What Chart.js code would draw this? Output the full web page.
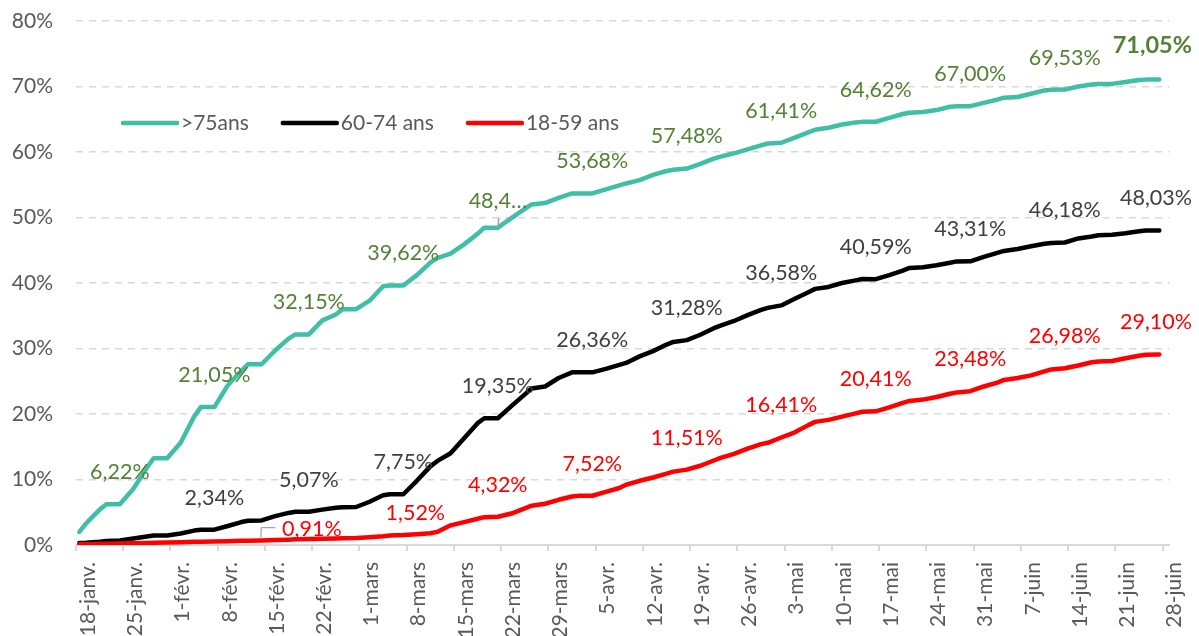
<!DOCTYPE html>
<html lang="fr">
<head>
<meta charset="UTF-8">
<title>Part vaccinée par tranche d'âge</title>
<script src="https://cdn.jsdelivr.net/npm/chart.js"></script>
<style>
  html, body { margin: 0; padding: 0; background: #fff; }
  #wrap { width: 1199px; height: 636px; }
</style>
</head>
<body>
<div id="wrap"><canvas id="chart"></canvas></div>
<script>
// jours depuis le 18 janvier (0 = 18-janv.)
var days = [0, 1, 3, 4, 6, 8, 10, 11, 13, 15, 17, 18, 20, 22, 24, 25, 27, 29, 31, 32,
  34, 36, 38, 39, 41, 43, 45, 46, 48, 50, 52, 53, 55, 57, 59, 60, 62, 64, 66, 67,
  69, 71, 73, 74, 76, 78, 80, 81, 83, 85, 87, 88, 90, 92, 94, 95, 97, 99, 101, 102,
  104, 106, 108, 109, 111, 113, 115, 116, 118, 120, 122, 123, 125, 127, 129, 130,
  132, 134, 136, 137, 139, 141, 143, 144, 146, 148, 150, 151, 153, 155, 157, 158, 160];

var over75 = [2.0, 3.3, 5.4, 6.22, 6.22, 8.6, 11.8, 13.25, 13.25, 15.6, 19.6, 21.05,
  21.05, 24.4, 26.6, 27.6, 27.6, 29.7, 31.5, 32.15, 32.15, 34.3, 35.2, 36.0,
  36.0, 37.3, 39.5, 39.62, 39.62, 41.2, 43.1, 43.8, 44.5, 45.9, 47.5, 48.45,
  48.45, 49.9, 51.3, 52.0, 52.2, 53.0, 53.68, 53.68, 53.68, 54.3, 54.9, 55.2,
  55.7, 56.5, 57.1, 57.3, 57.48, 58.2, 59.0, 59.3, 59.8, 60.4, 61.0, 61.3,
  61.41, 62.2, 63.0, 63.4, 63.7, 64.2, 64.5, 64.6, 64.62, 65.2, 65.8, 66.0,
  66.1, 66.4, 66.9, 67.0, 67.00, 67.5, 68.0, 68.3, 68.4, 68.9, 69.4, 69.5,
  69.53, 70.0, 70.3, 70.4, 70.4, 70.7, 71.0, 71.05, 71.05];

var age6074 = [0.3, 0.35, 0.5, 0.6, 0.7, 1.0, 1.3, 1.45, 1.45, 1.75, 2.2, 2.34,
  2.34, 2.9, 3.5, 3.7, 3.75, 4.4, 4.9, 5.07, 5.07, 5.4, 5.7, 5.75,
  5.8, 6.6, 7.6, 7.75, 7.75, 9.8, 12.0, 12.8, 14.0, 16.3, 18.6, 19.35,
  19.35, 21.2, 23.0, 23.9, 24.2, 25.5, 26.36, 26.36, 26.36, 26.9, 27.5, 27.8,
  28.8, 29.6, 30.6, 31.0, 31.28, 32.1, 33.1, 33.5, 34.2, 35.1, 35.9, 36.2,
  36.58, 37.6, 38.6, 39.1, 39.4, 40.0, 40.4, 40.6, 40.59, 41.2, 41.9, 42.3,
  42.4, 42.7, 43.1, 43.3, 43.31, 44.0, 44.6, 44.9, 45.2, 45.6, 46.0, 46.1,
  46.18, 46.8, 47.1, 47.3, 47.35, 47.6, 47.9, 48.0, 48.03];

var age1859 = [0.1, 0.12, 0.18, 0.2, 0.22, 0.27, 0.32, 0.35, 0.37, 0.42, 0.48, 0.5,
  0.52, 0.57, 0.63, 0.65, 0.68, 0.75, 0.82, 0.86, 0.91, 0.95, 1.0, 1.03,
  1.08, 1.2, 1.35, 1.45, 1.52, 1.65, 1.8, 2.0, 3.0, 3.5, 4.0, 4.25,
  4.32, 4.8, 5.6, 6.0, 6.3, 6.9, 7.4, 7.52, 7.52, 8.1, 8.7, 9.2,
  9.8, 10.3, 10.9, 11.2, 11.51, 12.1, 12.9, 13.3, 13.9, 14.7, 15.4, 15.6,
  16.41, 17.2, 18.3, 18.8, 19.1, 19.6, 20.1, 20.35, 20.41, 21.0, 21.7, 22.0,
  22.2, 22.6, 23.1, 23.3, 23.48, 24.2, 24.8, 25.2, 25.5, 25.9, 26.5, 26.8,
  26.98, 27.4, 27.9, 28.0, 28.1, 28.5, 28.9, 29.05, 29.10];

var tickLabels = ['18-janv.', '25-janv.', '1-févr.', '8-févr.', '15-févr.', '22-févr.',
  '1-mars', '8-mars', '15-mars', '22-mars', '29-mars', '5-avr.', '12-avr.', '19-avr.',
  '26-avr.', '3-mai', '10-mai', '17-mai', '24-mai', '31-mai', '7-juin', '14-juin',
  '21-juin', '28-juin'];

// jours affichant une étiquette de valeur
var labelDays75 = [6, 20, 34, 48, 62, 76, 90, 104, 118, 132, 146, 160];
var labelDays6074 = [20, 34, 48, 62, 76, 90, 104, 118, 132, 146, 160];
var labelDays1859 = [34, 48, 62, 76, 90, 104, 118, 132, 146, 160];

var FONT = 'Lato, "Open Sans", sans-serif';
Chart.defaults.font.family = FONT;

function toPoints(vals) {
  return days.map(function (d, i) { return { x: d, y: vals[i] }; });
}

function fmt(v) {
  return v.toFixed(2).replace('.', ',') + '%';
}

var labelPlugin = {
  id: 'valueLabels',
  afterDatasetsDraw: function (chart) {
    var ctx = chart.ctx;
    var maxRight = chart.width - 7;
    ctx.save();
    chart.data.datasets.forEach(function (ds, di) {
      var meta = chart.getDatasetMeta(di);
      ds.labelDays.forEach(function (d, k) {
        var i = days.indexOf(d);
        var pt = meta.data[i];
        var last = k === ds.labelDays.length - 1;
        var text = fmt(ds.data[i].y);
        var dx = 0, dy = -32;
        var bold = false;
        var key = ds.label + '@' + d;

        if (key === '>75ans@62') {
          text = '48,4…';
          dy = -27;
          ctx.strokeStyle = '#A6A6A6';
          ctx.lineWidth = 1.5;
          ctx.beginPath();
          ctx.moveTo(pt.x, pt.y);
          ctx.lineTo(pt.x + 1, pt.y - 10);
          ctx.stroke();
        }
        if (key === '18-59 ans@34') { dx = 3; dy = -10; }
        if (key === '18-59 ans@48') { dx = 12; dy = -22; }
        if (last && di === 0) { bold = true; dy = -34; }

        ctx.font = (bold ? 'bold 23.5px ' : '21.5px ') + FONT;
        var w = ctx.measureText(text).width;
        var cx = pt.x + dx;
        if (cx + w / 2 > maxRight) cx = maxRight - w / 2;
        var cy = pt.y + dy;

        if (key === '18-59 ans@34') {
          ctx.strokeStyle = '#A6A6A6';
          ctx.lineWidth = 1.3;
          ctx.beginPath();
          ctx.moveTo(cx - 51, cy + 8.5);
          ctx.lineTo(cx - 50.5, cy - 1.5);
          ctx.lineTo(cx - 36.5, cy - 1.5);
          ctx.stroke();
        }

        ctx.fillStyle = ds.labelColor;
        ctx.textAlign = 'center';
        ctx.textBaseline = 'middle';
        ctx.fillText(text, cx, cy);
      });
    });
    ctx.restore();
  }
};

var legendPlugin = {
  id: 'insideLegend',
  afterDraw: function (chart) {
    var ctx = chart.ctx;
    var x = 123, y = 123;
    ctx.save();
    ctx.font = '21px ' + FONT;
    ctx.textBaseline = 'middle';
    ctx.textAlign = 'left';
    ctx.lineCap = 'round';
    chart.data.datasets.forEach(function (ds) {
      ctx.strokeStyle = ds.borderColor;
      ctx.lineWidth = 4.5;
      ctx.beginPath();
      ctx.moveTo(x, y);
      ctx.lineTo(x + 54, y);
      ctx.stroke();
      ctx.fillStyle = '#595959';
      ctx.fillText(ds.label, x + 58, y);
      x += 58 + ctx.measureText(ds.label).width + 34;
    });
    ctx.restore();
  }
};

var ctx = document.getElementById('chart').getContext('2d');
new Chart(ctx, {
  type: 'line',
  data: {
    datasets: [{
      label: '>75ans',
      data: toPoints(over75),
      borderColor: '#3FBFA5',
      labelColor: '#548235',
      labelDays: labelDays75,
      order: 2
    }, {
      label: '60-74 ans',
      data: toPoints(age6074),
      borderColor: '#000000',
      labelColor: '#404040',
      labelDays: labelDays6074,
      order: 1
    }, {
      label: '18-59 ans',
      data: toPoints(age1859),
      borderColor: '#FF0000',
      labelColor: '#FF0000',
      labelDays: labelDays1859,
      order: 0
    }]
  },
  options: {
    responsive: true,
    maintainAspectRatio: false,
    animation: false,
    layout: { padding: { top: 21, right: 25, left: 0, bottom: 0 } },
    elements: {
      point: { radius: 0, hoverRadius: 0 },
      line: { borderWidth: 4.5, tension: 0, borderJoinStyle: 'round', borderCapStyle: 'round', fill: false }
    },
    plugins: {
      legend: { display: false },
      tooltip: { enabled: false }
    },
    scales: {
      x: {
        type: 'linear',
        min: -0.5,
        max: 161.5,
        afterBuildTicks: function (axis) {
          axis.ticks = tickLabels.map(function (t, i) { return { value: -0.5 + 7 * i }; });
        },
        afterFit: function (axis) { axis.height = 91; },
        grid: { drawOnChartArea: false, color: '#D9D9D9', lineWidth: 2, tickLength: 6 },
        border: { color: '#D9D9D9', width: 2 },
        ticks: {
          autoSkip: false,
          maxRotation: 90,
          minRotation: 90,
          padding: 11,
          labelOffset: 12,
          color: '#595959',
          font: { size: 21 },
          callback: function (v, i) { return tickLabels[i]; }
        }
      },
      y: {
        min: 0,
        max: 80,
        afterFit: function (axis) {
          axis.width = 76;
          axis.paddingTop = 0;
          axis.paddingBottom = 0;
        },
        grid: { color: '#D9D9D9', lineWidth: 1.5, drawTicks: false },
        border: { display: false, dash: [7, 6] },
        ticks: {
          stepSize: 10,
          padding: 23,
          color: '#595959',
          font: { size: 21 },
          callback: function (v) { return v + '%'; }
        }
      }
    }
  },
  plugins: [labelPlugin, legendPlugin]
});
</script>
</body>
</html>
